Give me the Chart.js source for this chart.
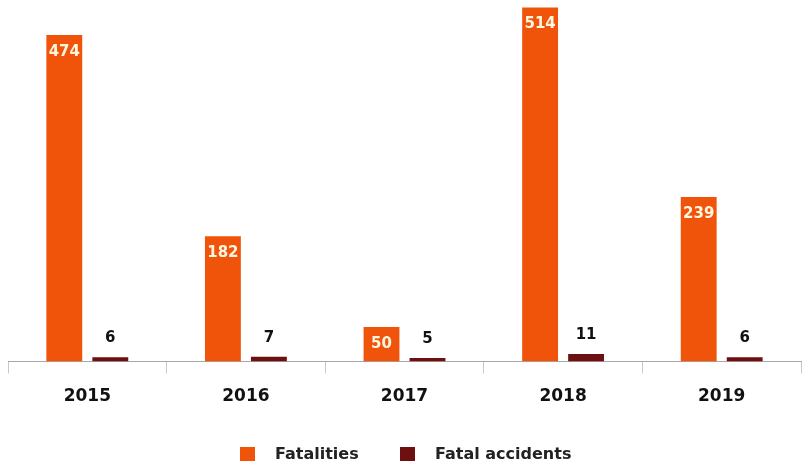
<!DOCTYPE html>
<html>
<head>
<meta charset="utf-8">
<script src="https://cdn.jsdelivr.net/npm/chart.js@4"></script>
<style>
  html, body { margin: 0; padding: 0; background: #fff; }
  #wrap { position: relative; width: 803px; height: 466px; }
  #legenda { position: absolute; left: 0; top: 446px; width: 803px; height: 16px;
             font: bold 16px "DejaVu Sans"; color: #222; }
  #legenda span.caixa { position: absolute; top: 1px; width: 15px; height: 14px; }
  #legenda span.texto { position: absolute; top: -2px; white-space: nowrap; line-height: 19px; }
</style>
</head>
<body>
<div id="wrap">
  <canvas id="myChart" width="803" height="466"></canvas>
  <div id="legenda"></div>
</div>
<script>
var anos = ["2015", "2016", "2017", "2018", "2019"]
var fatalidades = [474, 182, 50, 514, 239]
var acidentesFatais = [6, 7, 5, 11, 6]
var nomesSeries = ["Fatalities", "Fatal accidents"]
var coresSeries = ["#f0540a", "#6e1010"]

// escreve o valor de cada barra: branco dentro da laranja, preto acima da escura
var rotulosBarras = {
  id: 'rotulosBarras',
  afterDatasetsDraw(chart) {
    const ctx = chart.ctx
    ctx.save()
    ctx.font = 'bold 15px "DejaVu Sans"'
    ctx.textAlign = 'center'
    ctx.textBaseline = 'middle'
    chart.data.datasets.forEach((ds, i) => {
      const meta = chart.getDatasetMeta(i)
      meta.data.forEach((bar, j) => {
        if (i == 0) {
          ctx.fillStyle = '#fff6e0'
          ctx.fillText(ds.data[j], bar.x, bar.y + 17)
        } else {
          ctx.fillStyle = '#111'
          ctx.fillText(ds.data[j], bar.x, bar.y - 19)
        }
      })
    })
    ctx.restore()
  }
}

const ctx = document.getElementById('myChart')

const grafico = new Chart(ctx, {
  type: 'bar',
  data: {
    labels: anos,
    datasets: [{
      label: nomesSeries[0],
      data: fatalidades,
      backgroundColor: coresSeries[0]
    }, {
      label: nomesSeries[1],
      data: acidentesFatais,
      backgroundColor: coresSeries[1]
    }]
  },
  options: {
    responsive: false,
    animation: false,
    categoryPercentage: 0.58,
    barPercentage: 0.78,
    layout: { padding: { left: 8, right: 2, top: 0, bottom: 0 } },
    scales: {
      y: {
        display: false,
        min: 0,
        max: 525
      },
      x: {
        grid: {
          drawOnChartArea: false,
          tickLength: 12,
          color: '#c8c8c8'
        },
        border: { color: '#a8a8a8' },
        ticks: {
          padding: 13,
          color: '#111',
          font: { family: 'DejaVu Sans', size: 17, weight: 'bold' }
        },
        afterFit: function (scale) { scale.height = 104.5 }
      }
    },
    plugins: {
      legend: { display: false },
      tooltip: { enabled: false }
    }
  },
  plugins: [rotulosBarras]
})

// legenda montada em html, com as cores de cada série
var legenda = document.getElementById('legenda')
var posCaixa = [240, 400]
grafico.data.datasets.forEach((ds, i) => {
  var caixa = document.createElement('span')
  caixa.className = 'caixa'
  caixa.style.left = posCaixa[i] + 'px'
  caixa.style.background = ds.backgroundColor
  var texto = document.createElement('span')
  texto.className = 'texto'
  texto.style.left = (posCaixa[i] + 35) + 'px'
  texto.textContent = ds.label
  legenda.appendChild(caixa)
  legenda.appendChild(texto)
})
</script>
</body>
</html>
